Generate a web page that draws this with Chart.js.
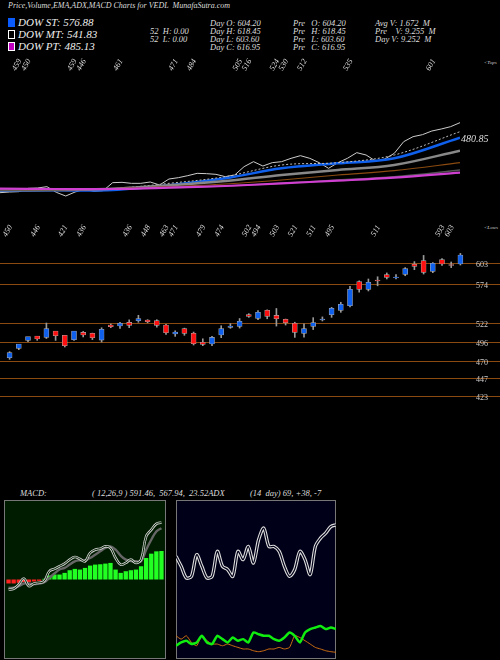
<!DOCTYPE html>
<html><head><meta charset="utf-8">
<script src="https://cdn.jsdelivr.net/npm/chart.js@4/dist/chart.umd.min.js"></script>
<style>
body{margin:0;background:#000;width:500px;height:660px;overflow:hidden;position:relative;font-family:"Liberation Serif","DejaVu Serif",serif;font-style:italic;color:#ddd}
.t{position:absolute;white-space:pre;font-size:8.5px;color:#ddd}
.lg{position:absolute;font-size:11px;color:#eee;white-space:pre}
.sq{display:inline-block;width:7px;height:9px;margin-right:3px;vertical-align:-1px;border:1px solid #fff;box-sizing:border-box}
canvas{position:absolute}
</style></head><body>
<div class="t" style="left:8px;top:1px;font-size:8px">Price,Volume,EMA,ADX,MACD Charts for VEDL  MunafaSutra.com</div>
<div class="lg" style="left:8px;top:16px"><span class="sq" style="background:#0a5cff;border-color:#0a5cff"></span>DOW ST: 576.88</div>
<div class="lg" style="left:8px;top:28px"><span class="sq" style="background:#000"></span>DOW MT: 541.83</div>
<div class="lg" style="left:8px;top:40px"><span class="sq" style="background:#c000c0"></span>DOW PT: 485.13</div>
<div class="t" style="left:150px;top:26px">52  H: 0.00</div>
<div class="t" style="left:150px;top:34px">52  L: 0.00</div>
<div class="t" style="left:210px;top:18px">Day O: 604.20</div>
<div class="t" style="left:210px;top:26px">Day H: 618.45</div>
<div class="t" style="left:210px;top:34px">Day L: 603.60</div>
<div class="t" style="left:210px;top:42px">Day C: 616.95</div>
<div class="t" style="left:293px;top:18px">Pre   O: 604.20</div>
<div class="t" style="left:293px;top:26px">Pre   H: 618.45</div>
<div class="t" style="left:293px;top:34px">Pre   L: 603.60</div>
<div class="t" style="left:293px;top:42px">Pre   C: 616.95</div>
<div class="t" style="left:375px;top:18px">Avg V: 1.672  M</div>
<div class="t" style="left:375px;top:26px">Pre    V: 9.255  M</div>
<div class="t" style="left:375px;top:34px">Day V: 9.252  M</div>
<div class="t" style="left:484px;top:60px;font-size:5px">&lt;Tops</div>
<div class="t" style="left:484px;top:225px;font-size:5px">&lt;Lows</div>
<div class="t" style="left:20px;top:488px">MACD:</div>
<div class="t" style="left:92px;top:488px">( 12,26,9 ) 591.46,  567.94,  23.52ADX</div>
<div class="t" style="left:250px;top:488px">(14  day) 69, +38, -7</div>
<canvas id="c1" width="500" height="400" style="left:0;top:0"></canvas>
<canvas id="c2" width="500" height="100" style="left:0;top:110px"></canvas>
<canvas id="c3" width="162" height="159" style="left:4px;top:500px"></canvas>
<canvas id="c4" width="160" height="159" style="left:176px;top:500px"></canvas>
<script>
const opens=[474.9,487.6,498.4,504.3,502.4,511.0,505.2,499.3,509.2,507.9,498.8,519.1,517.8,522.7,525.0,525.9,525.0,519.1,507.0,514.2,507.9,495.7,493.4,505.6,516.0,517.3,533.1,528.2,539.0,532.2,526.8,521.4,507.9,517.3,525.9,533.1,539.0,545.3,577.8,567.4,580.0,587.2,583.2,587.7,601.2,606.2,591.7,607.5,600.8,601.7];
const closes=[481.7,493.4,503.4,500.2,514.2,504.7,491.2,511.0,505.6,502.0,513.3,516.9,521.4,518.7,527.7,523.6,518.7,508.8,509.7,507.9,493.9,493.0,502.4,514.2,517.8,524.1,530.9,536.3,530.9,527.7,522.3,509.2,514.2,522.3,527.3,541.7,547.1,567.4,567.4,576.9,578.7,583.6,584.1,595.4,598.5,590.4,602.6,601.7,599.9,613.8];
const highs=[483.1,491.9,500.7,502.9,521.8,505.2,504.2,501.5,510.5,508.2,515.4,520.5,522.7,526.1,532.3,526.4,526.3,520.1,511.4,514.9,509.6,500.5,503.9,518.2,521.1,527.9,534.5,538.6,539.7,541.5,527.2,522.9,520.7,529.1,530.1,543.0,549.9,571.6,578.9,581.4,584.4,589.6,587.2,596.8,604.9,613.3,603.6,608.9,604.4,616.0];
const lows=[472.7,485.8,496.6,498.4,500.9,498.3,489.4,498.4,503.0,499.4,496.1,515.5,514.7,515.5,522.8,522.2,516.2,506.4,503.8,505.2,492.1,491.2,491.2,502.0,514.7,515.0,529.5,526.4,527.6,517.7,519.1,502.4,502.6,513.0,524.6,529.5,536.3,543.6,563.6,565.2,572.2,581.4,581.4,585.8,594.0,588.1,589.9,599.8,596.8,600.3];
const lowLabels=['450','446','421','436','436','448','463','471','479','474','502','494','503','521','511','495','511','593','603'];
const lowIdx=[1,4,7,9,14,16,18,19,22,24,27,28,30,32,34,36,41,48,49];
const topLabels=['459','450','459','446','461','471','484','505','516','524','530','512','535','601'];
const topIdx=[2,3,8,9,13,19,21,26,27,30,31,33,38,47];
const priceTicks=[603,574,522,496,470,447,423];
const closeLine=[422,424,425,435,436,440,423,412,424,432,426,428,452,453,450,450,454,445,463,467,473,480,479,477,470,475,500,515,502,512,515,525,533,525,512,495,512,525,542,535,517,523,540,575,590,596,607,613,620,632];
const emaIdx=[0,6,12,18,24,30,36,42,49];
const emaFast=[429,430,434,450,470,505,512,535,605];
const emaBlue=[428,429,430,444,465,495,510,525,587];
const emaGrey=[429,430,434,444,457,475,490,505,548];
const emaBrown=[430,431,434,440,448,460,475,488,512];
const emaDark=[430,431,433,437,442,450,460,470,490];
const emaMag=[434,433,433,437,442,450,458,467,482];
const macdHist=[-12,-12,-10,-8,-8,-6,-4,2,12,15,15,20,28,32,30,35,42,45,46,48,50,30,20,25,28,30,40,65,78,85,86];
const macdLine=[-30,-28,-15,3,-20,-12,-10,-5,25,32,40,48,60,68,62,55,80,90,93,100,95,65,45,50,60,50,60,130,150,168,172];
const macdSignal=[-25,-25,-20,-12,-12,-14,-12,-8,5,18,30,35,45,55,58,58,65,75,85,95,100,90,72,60,56,55,55,90,120,145,155];
const adxLine=[64.6,58.3,51,52,65.6,58.3,51,52,67.7,58.3,56.3,52,67.7,62.5,70.8,60.4,75,82.3,70.8,70.8,67.7,58.3,52,56.3,67.7,62.5,53.1,70.8,76,79.2,83.3,84.4];
const diPlus=[8.3,10.4,11.5,9.4,10.4,14.6,10.4,9.4,14.6,12.5,10.4,13.5,11.5,12.5,10.4,16.7,15.6,14.6,14.6,12.5,11.5,13.5,16.7,14.6,10.4,16.7,18.8,19.8,20.8,18.8,19.8,18.8];
const diMinus=[14.6,12.5,14.6,10.4,8.3,14.6,11.5,9.4,9.4,8.3,9.4,8.3,7.3,6.3,6.3,5.2,4.6,5.2,6.3,6.3,7.3,6.3,7.3,14.6,13.5,11.5,9.4,7.3,6.3,5.2,4.6,4.2];

Chart.defaults.animation=false;
const n=opens.length, labels=opens.map((_,i)=>i+1);
const up=opens.map((o,i)=>closes[i]>=o);
const bodyCol=up.map(u=>u?'#1060ee':'#ff1010');
const font='italic 8px "Liberation Serif", serif';

const candlePlugin={id:'cp',
 beforeDatasetsDraw(ch){const c=ch.ctx,y=ch.scales.y;c.save();c.strokeStyle='#8a4a10';c.lineWidth=1.2;
  priceTicks.forEach(t=>{const p=Math.round(y.getPixelForValue(t))+0.5;c.beginPath();c.moveTo(0,p);c.lineTo(500,p);c.stroke();});
  c.fillStyle='#ccc';c.font='8px "Liberation Serif", serif';c.textAlign='left';
  priceTicks.forEach(t=>c.fillText(String(t),476,y.getPixelForValue(t)+4));c.restore();},
 afterDraw(ch){const c=ch.ctx,x=ch.scales.x;c.save();c.fillStyle='#ddd';c.font=font;
  const draw=(arr,idx,yy)=>arr.forEach((s,k)=>{c.save();c.translate(x.getPixelForValue(idx[k]-1),yy);c.rotate(-Math.PI/3);c.textAlign='center';c.fillText(s,0,0);c.restore();});
  draw(lowLabels,lowIdx,232);draw(topLabels,topIdx,66);c.restore();}};
new Chart(document.getElementById('c1'),{type:'bar',
 data:{labels,datasets:[
  {data:opens.map((o,i)=>[lows[i],highs[i]]),backgroundColor:'#999',barThickness:1,grouped:false,order:2},
  {data:opens.map((o,i)=>[o,closes[i]]),backgroundColor:bodyCol,borderColor:'#aaa',borderWidth:0.6,barThickness:5,grouped:false,order:1,borderSkipped:false}]},
 options:{responsive:false,events:[],layout:{padding:{left:5,right:35,top:220,bottom:0}},
  plugins:{legend:{display:false},tooltip:{enabled:false}},
  scales:{x:{display:false,offset:true},y:{display:false,min:417.7,max:661.2}}},
 plugins:[candlePlugin]});

const pts=(idx,v)=>idx.map((x,k)=>({x,y:v[k]}));
const emaLabel={id:'el',afterDraw(ch){const c=ch.ctx;c.save();c.fillStyle='#ddd';c.font='italic 10px "Liberation Serif", serif';c.textAlign='left';c.fillText('480.85',ch.scales.x.getPixelForValue(49)+1,ch.scales.y.getPixelForValue(emaFast[8])+10);c.restore();}};
const L=(data,color,w,extra)=>Object.assign({data,borderColor:color,borderWidth:w,pointRadius:0,tension:0.35,fill:false},extra||{});
new Chart(document.getElementById('c2'),{type:'line',
 data:{datasets:[
  L(pts(emaIdx,emaMag),'#d040d0',2.2),
  L(pts(emaIdx,emaDark),'#555',1.5),
  L(pts(emaIdx,emaBrown),'#8a4a10',1.2),
  L(pts(emaIdx,emaGrey),'#888',2.5),
  L(pts(emaIdx,emaFast),'#bbb',1,{borderDash:[2,2]}),
  L(pts(emaIdx,emaBlue),'#1060ee',2.5),
  L(closeLine.map((v,i)=>({x:i,y:v})),'#ccc',1,{tension:0})]},
 options:{responsive:false,events:[],layout:{padding:{left:0,right:40,top:0,bottom:0}},plugins:{legend:{display:false},tooltip:{enabled:false}},
  scales:{x:{type:'linear',display:false,min:0,max:49},y:{display:false,min:370,max:670}}},
 plugins:[emaLabel]});

const bg=(col)=>({id:'bg',beforeDraw(ch){const c=ch.ctx;c.save();c.fillStyle=col;c.fillRect(0,0,ch.width,ch.height);c.strokeStyle='#777';c.lineWidth=1;c.strokeRect(0.5,0.5,ch.width-1,ch.height-1);c.restore();}});
const mIdx=macdHist.map((_,i)=>i);
new Chart(document.getElementById('c3'),{type:'bar',
 data:{labels:mIdx,datasets:[
  {type:'line',data:macdLine,borderColor:'#ccc',borderWidth:2.6,pointRadius:0,tension:0.4,order:1},
  {type:'line',data:macdLine,borderColor:'#002000',borderWidth:1,pointRadius:0,tension:0.4,order:0},
  {type:'line',data:macdSignal,borderColor:'#666',borderWidth:2.4,pointRadius:0,tension:0.4,order:2},
  {data:macdHist,backgroundColor:macdHist.map(v=>v<0?'#ff2020':'#22ff22'),categoryPercentage:1,barPercentage:0.85,order:3}]},
 options:{responsive:false,events:[],layout:{padding:{left:2,right:2}},plugins:{legend:{display:false},tooltip:{enabled:false}},
  scales:{x:{display:false},y:{display:false,min:-240,max:240}}},
 plugins:[bg('#001c00')]});

const aIdx=adxLine.map((_,i)=>i);
new Chart(document.getElementById('c4'),{type:'line',
 data:{labels:aIdx,datasets:[
  {data:adxLine,borderColor:'#000018',borderWidth:1.2,pointRadius:0,tension:0.3,order:0},
  {data:adxLine,borderColor:'#ddd',borderWidth:3.4,pointRadius:0,tension:0.3,order:1},
  {data:diMinus,borderColor:'#d07010',borderWidth:1,pointRadius:0,tension:0.2,order:3},
  {data:diPlus,borderColor:'#10ee10',borderWidth:2.5,pointRadius:0,tension:0.2,order:2}]},
 options:{responsive:false,events:[],layout:{padding:0},plugins:{legend:{display:false},tooltip:{enabled:false}},
  scales:{x:{display:false},y:{display:false,min:0,max:100}}},
 plugins:[bg('#000018')]});
</script></body></html>
